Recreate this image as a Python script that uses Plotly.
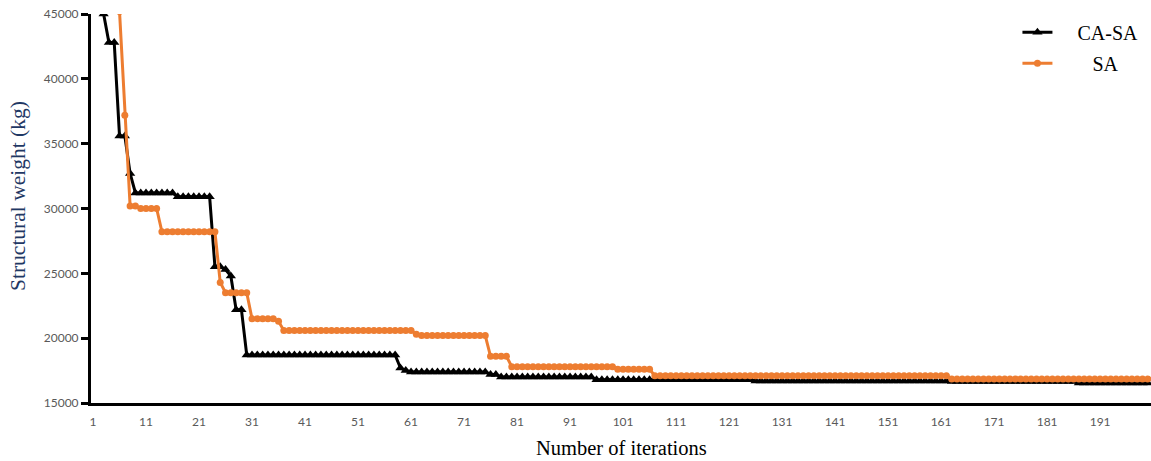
import plotly.graph_objects as go

iterations = list(range(1, 201))

ca_sa = [
    52000, 48000, 45000, 42800, 42800, 35600, 35600, 32700, 31200, 31200,
    31200, 31200, 31200, 31200, 31200, 31200, 30900, 30900, 30900, 30900,
    30900, 30900, 30900, 25500, 25500, 25300, 24800, 22200, 22200, 18700,
    18700, 18700, 18700, 18700, 18700, 18700, 18700, 18700, 18700, 18700,
    18700, 18700, 18700, 18700, 18700, 18700, 18700, 18700, 18700, 18700,
    18700, 18700, 18700, 18700, 18700, 18700, 18700, 18700, 17700, 17500,
    17400, 17400, 17400, 17400, 17400, 17400, 17400, 17400, 17400, 17400,
    17400, 17400, 17400, 17400, 17400, 17200, 17200, 17000, 17000, 17000,
    17000, 17000, 17000, 17000, 17000, 17000, 17000, 17000, 17000, 17000,
    17000, 17000, 17000, 17000, 17000, 16800, 16800, 16800, 16800, 16800,
    16800, 16800, 16800, 16800, 16800, 16800, 16800, 16800, 16800, 16800,
    16800, 16800, 16800, 16800, 16800, 16800, 16800, 16800, 16800, 16800,
    16800, 16800, 16800, 16800, 16800, 16700, 16700, 16700, 16700, 16700,
    16700, 16700, 16700, 16700, 16700, 16700, 16700, 16700, 16700, 16700,
    16700, 16700, 16700, 16700, 16700, 16700, 16700, 16700, 16700, 16700,
    16700, 16700, 16700, 16700, 16700, 16700, 16700, 16700, 16700, 16700,
    16700, 16700, 16650, 16650, 16650, 16650, 16650, 16650, 16650, 16650,
    16650, 16650, 16650, 16650, 16650, 16650, 16650, 16650, 16650, 16650,
    16650, 16650, 16650, 16650, 16650, 16650, 16550, 16550, 16550, 16550,
    16550, 16550, 16550, 16550, 16550, 16550, 16550, 16550, 16550, 16550,
]

sa = [
    70000, 62000, 56000, 51000, 47500, 45200, 37200, 30200, 30200, 30000,
    30000, 30000, 30000, 28200, 28200, 28200, 28200, 28200, 28200, 28200,
    28200, 28200, 28200, 28200, 24300, 23500, 23500, 23500, 23500, 23500,
    21500, 21500, 21500, 21500, 21500, 21300, 20600, 20600, 20600, 20600,
    20600, 20600, 20600, 20600, 20600, 20600, 20600, 20600, 20600, 20600,
    20600, 20600, 20600, 20600, 20600, 20600, 20600, 20600, 20600, 20600,
    20600, 20300, 20200, 20200, 20200, 20200, 20200, 20200, 20200, 20200,
    20200, 20200, 20200, 20200, 20200, 18600, 18600, 18600, 18600, 17800,
    17800, 17800, 17800, 17800, 17800, 17800, 17800, 17800, 17800, 17800,
    17800, 17800, 17800, 17800, 17800, 17800, 17800, 17800, 17800, 17600,
    17600, 17600, 17600, 17600, 17600, 17600, 17100, 17100, 17100, 17100,
    17100, 17100, 17100, 17100, 17100, 17100, 17100, 17100, 17100, 17100,
    17100, 17100, 17100, 17100, 17100, 17100, 17100, 17100, 17100, 17100,
    17100, 17100, 17100, 17100, 17100, 17100, 17100, 17100, 17100, 17100,
    17100, 17100, 17100, 17100, 17100, 17100, 17100, 17100, 17100, 17100,
    17100, 17100, 17100, 17100, 17100, 17100, 17100, 17100, 17100, 17100,
    17100, 17100, 16850, 16850, 16850, 16850, 16850, 16850, 16850, 16850,
    16850, 16850, 16850, 16850, 16850, 16850, 16850, 16850, 16850, 16850,
    16850, 16850, 16850, 16850, 16850, 16850, 16850, 16850, 16850, 16850,
    16850, 16850, 16850, 16850, 16850, 16850, 16850, 16850, 16850, 16850,
]

x_tickvals = list(range(1, 200, 10))
x_ticktext = [str(v) for v in x_tickvals]
y_tickvals = [15000, 20000, 25000, 30000, 35000, 40000, 45000]
y_ticktext = [str(v) for v in y_tickvals]

NB = "\u00a0"
series_names = [NB * 4 + "CA-SA", NB * 7 + "SA"]
x_title = "Number of iterations"
y_title = "Structural weight (kg)"

BLACK = "#000000"
ORANGE = "#ED7D31"
SERIF = "Liberation Serif, Times New Roman, serif"
SANS = "Lato, Carlito, Open Sans, sans-serif"

fig = go.Figure()
fig.add_trace(go.Scatter(
    x=iterations, y=ca_sa, name=series_names[0], mode="lines+markers",
    line=dict(color=BLACK, width=3),
    marker=dict(symbol="triangle-up", size=9, color=BLACK),
    legendgroup="a",
))
fig.add_trace(go.Scatter(
    x=iterations, y=sa, name=series_names[1], mode="lines+markers",
    line=dict(color=ORANGE, width=3),
    marker=dict(symbol="circle", size=7, color=ORANGE),
    legendgroup="b",
))

fig.update_layout(
    width=1151, height=461,
    margin=dict(l=91, r=0, t=14, b=58, autoexpand=False),
    plot_bgcolor="white", paper_bgcolor="white",
    showlegend=True,
    legend=dict(
        x=0.874, y=1.003, xanchor="left", yanchor="top",
        font=dict(family=SERIF, size=20, color="#000000"),
        bgcolor="rgba(0,0,0,0)", tracegroupgap=2, itemwidth=30,
    ),
    xaxis=dict(
        range=[0.62, 200.6], tickmode="array", tickvals=x_tickvals, ticktext=x_ticktext,
        tickfont=dict(family=SANS, size=12, color="#595959"),
        showline=True, linecolor=BLACK, linewidth=3,
        showgrid=False, zeroline=False, automargin=False,
        ticks="outside", ticklen=6, tickcolor="rgba(0,0,0,0)",
    ),
    yaxis=dict(
        range=[15000, 45000], tickmode="array", tickvals=y_tickvals, ticktext=y_ticktext,
        tickfont=dict(family=SANS, size=12, color="#595959"),
        showline=True, linecolor=BLACK, linewidth=3,
        showgrid=False, zeroline=False, automargin=False,
        ticks="outside", ticklen=7, tickwidth=3, tickcolor=BLACK,
    ),
    yaxis2=dict(
        range=[15000, 45000], overlaying="y", anchor="x", side="left",
        tickmode="array", tickvals=y_tickvals, showticklabels=False,
        ticks="inside", ticklen=7, tickwidth=3, tickcolor=BLACK,
        showgrid=False, zeroline=False, showline=False, automargin=False,
    ),
    annotations=[
        dict(text=x_title, xref="paper", yref="paper", x=0.5, y=(403 - 448) / 389,
             xanchor="center", yanchor="middle", showarrow=False,
             font=dict(family=SERIF, size=20.5, color="#000000")),
        dict(text=y_title, xref="paper", yref="paper", x=(18 - 91) / 1060, y=(403 - 196) / 389,
             xanchor="center", yanchor="middle", showarrow=False, textangle=-90,
             font=dict(family=SERIF, size=21.5, color="#1F3864")),
    ],
)

fig.write_html("out.html", config={"displayModeBar": False},
               post_script="document.body.style.margin='0px';")
